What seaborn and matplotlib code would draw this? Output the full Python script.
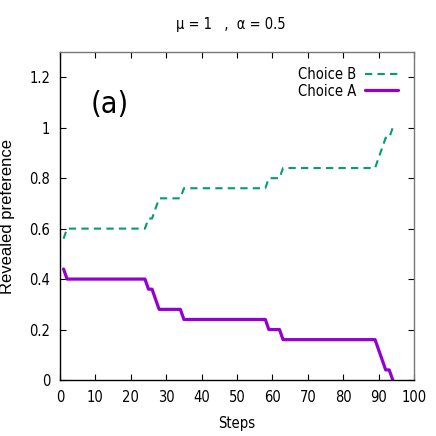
import numpy as np
import pandas as pd
import seaborn as sns
import matplotlib
matplotlib.use('Agg')
import matplotlib.pyplot as plt
from matplotlib import font_manager

# vertices of the two step curves
steps = [1, 2, 24, 25, 26, 28, 34, 35, 58, 59, 62, 63, 89, 92, 93, 94]
choice_a = [0.44, 0.40, 0.40, 0.36, 0.36, 0.28, 0.28, 0.24, 0.24, 0.20, 0.20, 0.16, 0.16, 0.04, 0.04, 0.00]
choice_b = [0.56, 0.60, 0.60, 0.64, 0.64, 0.72, 0.72, 0.76, 0.76, 0.80, 0.80, 0.84, 0.84, 0.96, 0.96, 1.00]

xticks = [0, 10, 20, 30, 40, 50, 60, 70, 80, 90, 100]
yticks = [0, 0.2, 0.4, 0.6, 0.8, 1.0, 1.2]
yticklabels = ['0', '0.2', '0.4', '0.6', '0.8', '1', '1.2']

df = pd.DataFrame({
    'step': steps + steps,
    'value': choice_b + choice_a,
    'series': ['Choice B'] * len(steps) + ['Choice A'] * len(steps),
})

sns.set_style('ticks')


# gnuplot used a narrow helvetica-ish face; pick the closest one we have
def pick_font():
    try:
        f = font_manager.findfont(font_manager.FontProperties(family='Liberation Sans Narrow'),
                                  fallback_to_default=False)
        if 'Narrow' in f:
            return 'Liberation Sans Narrow', 'normal'
    except Exception:
        pass
    f = font_manager.findfont(font_manager.FontProperties(family='DejaVu Sans', stretch='condensed'))
    if 'Condensed' in f:
        return 'DejaVu Sans', 'condensed'
    return 'Liberation Sans', 'normal'


fam, stretch = pick_font()
plt.rcParams['font.family'] = [fam, 'DejaVu Sans']
plt.rcParams['font.stretch'] = stretch
plt.rcParams['font.size'] = 10
plt.rcParams['text.color'] = 'black'
plt.rcParams['axes.labelcolor'] = 'black'

fig = plt.figure(figsize=(4.36, 4.36), dpi=100)
ax = fig.add_axes([60 / 436, 56 / 436, 354 / 436, 328 / 436])

sns.lineplot(data=df[df.series == 'Choice B'], x='step', y='value', ax=ax,
             color='#009e73', lw=1.5, estimator=None, sort=False,
             label='Choice B')
sns.lineplot(data=df[df.series == 'Choice A'], x='step', y='value', ax=ax,
             color='#9400d3', lw=2.3, estimator=None, sort=False,
             label='Choice A')
ax.lines[0].set_dashes((3.5, 2.5))

ax.set_xlim(0, 100)
ax.set_ylim(0, 1.3)
ax.set_xticks(xticks)
ax.set_yticks(yticks)
ax.set_yticklabels(yticklabels)
ax.tick_params(direction='in', length=4, width=0.8, top=True, right=True,
               labelsize=10.5, pad=7, colors='black')
for s in ['left', 'bottom']:
    ax.spines[s].set_color('black')
for s in ['top', 'right']:
    ax.spines[s].set_color('#777777')
for s in ax.spines.values():
    s.set_linewidth(1.0)

ax.set_xlabel('Steps', fontsize=10.5, labelpad=8)
ax.set_ylabel('Revealed preference', fontsize=12, family='Liberation Sans',
              stretch='normal')
ax.yaxis.set_label_coords(-45 / 354, 0.5)

leg = ax.legend(loc='upper right', frameon=False, markerfirst=False,
                fontsize=10.5, handlelength=2.3, handletextpad=0.6,
                labelspacing=0.1, borderaxespad=0.3,
                bbox_to_anchor=(0.985, 0.985))
leg.get_lines()[0].set_dashes((3.5, 2.5))

ax.text(0.14, 0.84, '(a)', transform=ax.transAxes, fontsize=22,
        ha='center', va='center')

fig.text(231 / 436, 1 - 25 / 436, 'μ = 1   ,  α = 0.5', ha='center',
         va='center', fontsize=10.5)

fig.savefig('out.png', dpi=100)
